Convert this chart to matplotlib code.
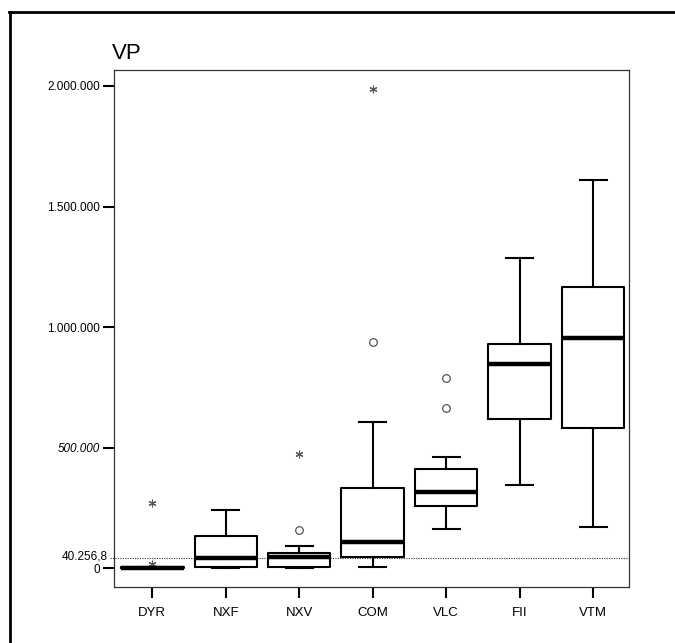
import matplotlib.pyplot as plt
from matplotlib.lines import Line2D
from matplotlib.ticker import FuncFormatter
from matplotlib.transforms import blended_transform_factory, offset_copy

# ---- data ----
groups = ['DYR', 'NXF', 'NXV', 'COM', 'VLC', 'FII', 'VTM']
q1 = [0, 5000, 5000, 44000, 257000, 617000, 580000]
median = [1500, 40000, 47000, 109000, 314000, 846000, 953000]
q3 = [3500, 134000, 62000, 331000, 410000, 929000, 1167000]
whisker_low = [0, 2000, 1000, 5500, 160000, 346000, 171000]
whisker_high = [5000, 240000, 92000, 604000, 459000, 1286000, 1610000]

# outliers (circles) and extremes (asterisks), as (group index, value)
outliers = [(2, 158000), (3, 939000), (4, 787000), (4, 664000)]
extremes = [(0, 268000), (0, 17000), (2, 473000), (3, 1987000)]

ref_value = 40256.8
ref_label = '40.256,8'
y_ticks = [0, 500000, 1000000, 1500000, 2000000]

plt.rcParams['font.family'] = ['Liberation Sans', 'DejaVu Sans']

fig = plt.figure(figsize=(6.75, 6.43), dpi=100)
ax = fig.add_axes([0.169, 0.087, 0.763, 0.804])

stats = []
for i, name in enumerate(groups):
    stats.append({'label': name, 'q1': q1[i], 'med': median[i], 'q3': q3[i],
                  'whislo': whisker_low[i], 'whishi': whisker_high[i], 'fliers': []})

pos = list(range(1, len(groups) + 1))
ax.bxp(stats, positions=pos, widths=0.85, capwidths=0.37, showfliers=False,
       boxprops=dict(color='black', linewidth=1.5),
       whiskerprops=dict(color='black', linewidth=1.5),
       capprops=dict(color='black', linewidth=1.5),
       medianprops=dict(color='black', linewidth=3.2, solid_capstyle='butt'))

ax.plot([pos[g] for g, v in outliers], [v for g, v in outliers], linestyle='none',
        marker='o', markersize=5.5, markerfacecolor='white', markeredgecolor='#555555',
        markeredgewidth=0.9)
ax.plot([pos[g] for g, v in extremes], [v for g, v in extremes], linestyle='none',
        marker=(6, 2, 0), markersize=5.5, markeredgecolor='#555555', markeredgewidth=0.8)

# dotted reference line, running a little past the left axis
ax.axhline(ref_value, xmin=-0.008, xmax=1, color='#333333', linestyle=(0, (1, 1.2)),
           linewidth=0.8, zorder=0, clip_on=False)
trans = blended_transform_factory(ax.transAxes, ax.transData)
ax.text(-0.012, ref_value, ref_label, fontsize=8.5, ha='right', va='center',
        transform=offset_copy(trans, fig=fig, y=1.5, units='points'))

ax.set_xlim(0.48, 7.49)
ax.set_ylim(-79000, 2066000)

def de_fmt(v, p=None):
    return f'{int(round(v)):,}'.replace(',', '.')

ax.set_yticks(y_ticks)
ax.yaxis.set_major_formatter(FuncFormatter(de_fmt))
ax.tick_params(axis='y', length=8, width=1.5, pad=2, labelsize=8.5)
ax.tick_params(axis='x', length=8, width=1.5, pad=6, labelsize=9.5)
ax.get_yticklabels()[1].set_style('italic')

for s in ax.spines.values():
    s.set_linewidth(0.9)
    s.set_color('#333333')

fig.text(0.166, 0.908, 'VP', fontsize=16, ha='left', va='baseline')

# outer frame of the scanned figure (only top and left survive)
fig.add_artist(Line2D([0.014, 1.0], [0.981, 0.981], color='black', linewidth=2))
fig.add_artist(Line2D([0.015, 0.015], [0.0, 0.981], color='black', linewidth=2))

fig.savefig('out.png', dpi=100)
